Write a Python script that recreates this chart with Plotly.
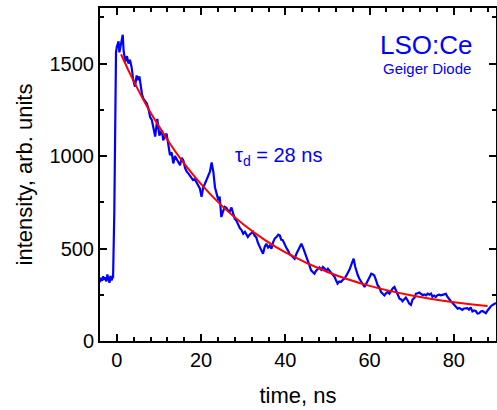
import plotly.graph_objects as go

time_ns = [
    -4.0, -3.75, -3.5, -3.25, -3.0, -2.75, -2.5, -2.25, -2.0, -1.75, -1.5, -1.25, -1.0, -0.9,
    -0.6, -0.4, -0.2, 0.0, 0.15, 0.4, 0.6, 0.9, 1.2, 1.4, 1.6, 1.8, 2.0, 2.4, 2.75, 3.1, 3.5,
    3.9, 4.3, 4.7, 5.0, 5.35, 5.7, 6.0, 6.3, 6.7, 7.1, 7.5, 7.9, 8.3, 8.7, 9.1, 9.6, 10.1,
    10.7, 11.0, 11.4, 11.8, 12.2, 12.6, 13.0, 13.4, 13.8, 14.2, 14.6, 15.0, 15.4, 15.8, 16.2,
    16.6, 17.0, 17.3, 17.7, 18.1, 18.5, 18.9, 19.3, 19.7, 20.1, 20.5, 20.9, 21.3, 21.7, 22.1,
    22.5, 22.9, 23.3, 23.7, 24.1, 24.4, 24.8, 25.2, 25.6, 26.0, 26.4, 26.8, 27.2, 27.6, 28.0,
    28.4, 28.8, 29.2, 29.6, 30.0, 30.4, 30.8, 31.1, 31.5, 31.9, 32.3, 32.7, 33.1, 33.5, 33.9,
    34.3, 34.7, 35.1, 35.5, 35.9, 36.3, 36.7, 37.1, 37.5, 37.9, 38.3, 38.7, 39.0, 39.4, 39.8,
    40.2, 40.6, 41.0, 41.4, 41.8, 42.2, 42.6, 43.0, 43.4, 43.8, 44.2, 44.6, 45.0, 45.3, 45.7,
    46.1, 46.5, 46.9, 47.3, 47.7, 48.1, 48.5, 48.9, 49.3, 49.7, 50.1, 50.5, 50.9, 51.3, 51.7,
    52.0, 52.4, 52.8, 53.2, 53.6, 54.0, 54.4, 54.8, 55.2, 55.6, 55.9, 56.2, 56.6, 56.9, 57.2,
    57.6, 58.0, 58.4, 58.8, 59.2, 59.6, 60.0, 60.4, 60.8, 61.1, 61.5, 61.9, 62.3, 62.7, 63.1,
    63.5, 63.9, 64.3, 64.7, 65.1, 65.5, 65.9, 66.3, 66.7, 67.1, 67.5, 67.8, 68.2, 68.6, 69.0,
    69.4, 69.8, 70.2, 70.6, 71.0, 71.4, 71.8, 72.2, 72.6, 73.0, 73.4, 73.8, 74.2, 74.6, 74.9,
    75.3, 75.7, 76.1, 76.5, 76.9, 77.3, 77.7, 78.1, 78.5, 78.9, 79.3, 79.7, 80.1, 80.5, 80.9,
    81.3, 81.7, 82.0, 82.4, 82.8, 83.2, 83.6, 84.0, 84.4, 84.8, 85.2, 85.6, 86.0, 86.4, 86.8,
    87.2, 87.6, 88.0, 88.4, 88.8, 89.2, 89.6, 90.0,
]
intensity = [
    318, 342, 325, 350, 330, 345, 322, 360, 335, 315, 352, 328, 345, 340,
    700, 1150, 1560, 1590, 1610, 1620, 1560, 1600, 1645, 1655, 1570, 1530, 1510, 1540, 1500, 1520, 1480,
    1410, 1375, 1435, 1410, 1430, 1365, 1330, 1310, 1300, 1285, 1255, 1210, 1195, 1155, 1105, 1200, 1110,
    1140, 1085, 1110, 1120, 1065, 1005, 1020, 960, 1000, 985, 965, 950, 990, 975, 935,
    915, 905, 895, 880, 870, 875, 860, 840, 825, 780, 830, 850, 870, 890, 915,
    965, 915, 830, 790, 760, 780, 670, 700, 725, 720, 705, 700, 722, 690, 660,
    650, 630, 610, 600, 580, 590, 570, 562, 575, 585, 590, 570, 560, 530, 505,
    490, 472, 510, 526, 505, 515, 499, 535, 555, 562, 575, 570, 548, 544, 520,
    505, 490, 470, 463, 455, 445, 470, 490, 510, 526, 505, 481, 460, 445, 410,
    382, 370, 364, 380, 391, 398, 385, 400, 392, 380, 391, 380, 373, 360, 346,
    330, 310, 322, 319, 330, 337, 350, 364, 385, 409, 430, 445, 400, 375, 355,
    335, 319, 305, 292, 310, 328, 350, 364, 360, 355, 330, 301, 290, 265, 255,
    247, 258, 265, 256, 275, 285, 292, 274, 250, 229, 225, 215, 225, 235, 220,
    202, 195, 225, 232, 256, 258, 262, 255, 248, 252, 247, 256, 250, 256, 240,
    245, 238, 247, 250, 247, 250, 256, 255, 238, 229, 215, 205, 195, 184, 175,
    178, 172, 168, 176, 175, 178, 170, 182, 160, 165, 162, 148, 150, 160, 162,
    155, 150, 165, 180, 188, 195, 200, 205,
]

# exponential fit, tau_d = 28 ns
fit_time = [1, 3, 5, 7.5, 10, 12.5, 15, 20, 25, 30, 35, 40, 50, 60, 70, 80, 88]
fit_intensity = [1550, 1451, 1360, 1254, 1160, 1070, 989, 848, 729, 631, 548, 479, 373, 298, 246, 210, 189]

x_ticks = [0, 20, 40, 60, 80]
y_ticks = [0, 500, 1000, 1500]

fig = go.Figure()

fig.add_trace(go.Scatter(
    x=time_ns, y=intensity, mode='lines',
    line=dict(color='#0000FF', width=2.2),
    showlegend=False
))

fig.add_trace(go.Scatter(
    x=fit_time, y=fit_intensity, mode='lines',
    line=dict(color='#FF0000', width=2, shape='spline'),
    showlegend=False
))

axis_common = dict(
    showline=True, linecolor='black', linewidth=2, mirror='allticks',
    ticks='inside', ticklen=7, tickwidth=1.5, tickcolor='black',
    showgrid=False, zeroline=False, automargin=False,
    tickfont=dict(family='Liberation Sans, Arial', size=20, color='black'),
    title_font=dict(family='Liberation Sans, Arial', size=22, color='black'),
)

fig.update_xaxes(
    range=[-4, 90], tickvals=x_ticks,
    minor=dict(ticks='inside', dtick=4, tick0=0, ticklen=4, tickwidth=1.5, tickcolor='black'),
    title_text='time, ns', title_standoff=18,
    **axis_common
)
fig.update_yaxes(
    range=[0, 1800], tickvals=y_ticks,
    minor=dict(ticks='inside', dtick=250, tick0=0, ticklen=4, tickwidth=1.5, tickcolor='black'),
    title_text='intensity, arb. units', title_standoff=11,
    **axis_common
)

fig.add_annotation(x=0.947, y=0.889, xref='paper', yref='paper', xanchor='right', yanchor='middle',
                   text='LSO:Ce', showarrow=False,
                   font=dict(family='Liberation Sans, Arial', size=26, color='#0000FF'))
fig.add_annotation(x=0.943, y=0.817, xref='paper', yref='paper', xanchor='right', yanchor='middle',
                   text='Geiger Diode', showarrow=False,
                   font=dict(family='Liberation Sans, Arial', size=15, color='#0000FF'))
fig.add_annotation(x=0.336, y=0.553, xref='paper', yref='paper', xanchor='left', yanchor='middle',
                   text='τ<sub>d</sub> = 28 ns', showarrow=False,
                   font=dict(family='Liberation Sans, Arial', size=20, color='#0000FF'))

fig.update_layout(
    width=497, height=410,
    margin=dict(l=100, r=1, t=8, b=69),
    plot_bgcolor='white', paper_bgcolor='white',
)

fig.write_html("out.html", config={'displayModeBar': False},
               post_script="document.body.style.margin='0';")
